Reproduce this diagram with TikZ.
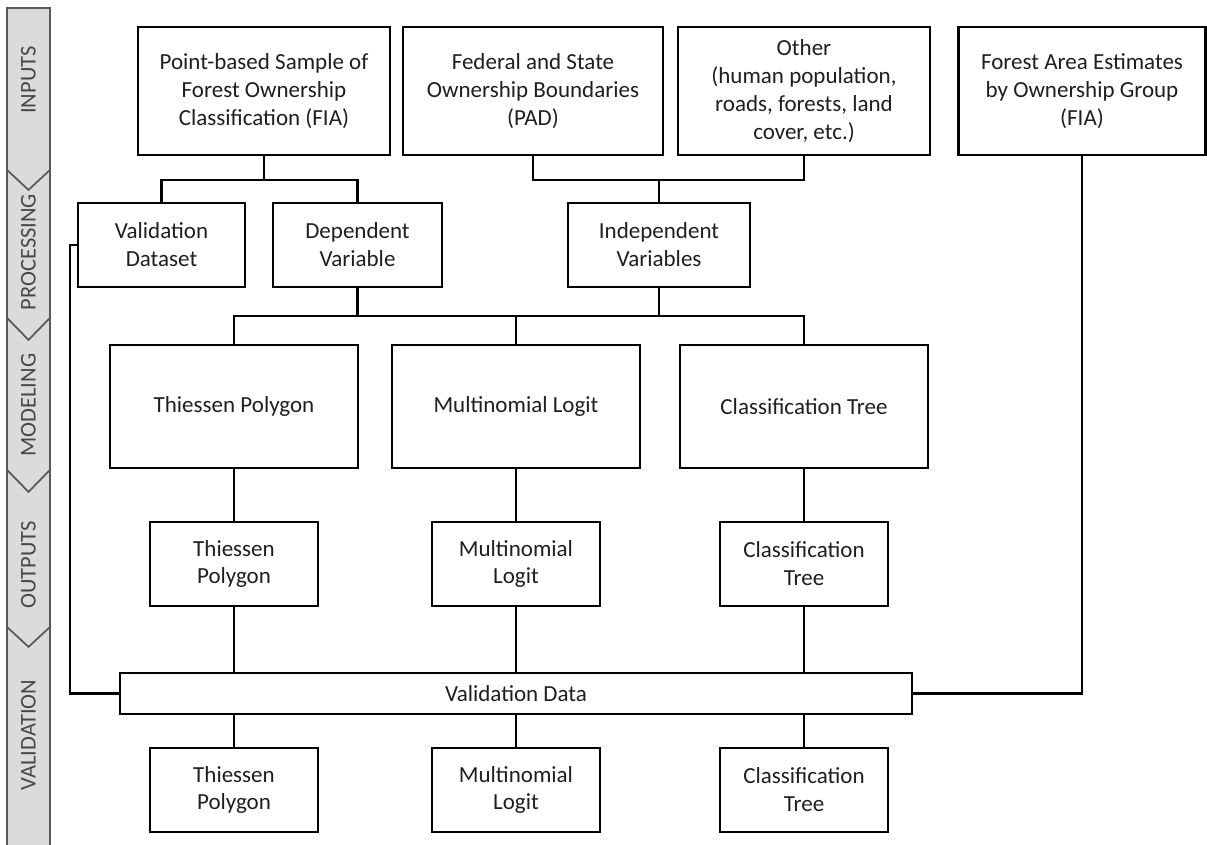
\documentclass[tikz,border=0pt]{standalone}
\usepackage{fontspec}
\setmainfont{Carlito}
\begin{document}
\begin{tikzpicture}[x=0.02cm,y=-0.02cm,
  box/.style={draw=black,line width=1.3pt,fill=white,align=center,inner sep=0pt,
    font=\fontsize{13.1pt}{15.9pt}\selectfont,text=black!88},
  wire/.style={line width=1.3pt,line join=miter},
  seg/.style={fill=black!14,draw=black!65,line width=0.9pt},
  seglabel/.style={rotate=90,font=\fontsize{12.8pt}{14pt}\selectfont,text=black!72}]
\path[use as bounding box,fill=white] (0,0) rectangle (1207,845);
% sidebar
\draw[seg] (7,8) -- (50,8) -- (50,170) -- (28.5,190) -- (7,170) -- cycle;
\draw[seg] (7,170) -- (28.5,190) -- (50,170) -- (50,318) -- (28.5,340) -- (7,318) -- cycle;
\draw[seg] (7,318) -- (28.5,340) -- (50,318) -- (50,470) -- (28.5,492) -- (7,470) -- cycle;
\draw[seg] (7,470) -- (28.5,492) -- (50,470) -- (50,627) -- (28.5,647) -- (7,627) -- cycle;
\draw[seg] (7,627) -- (28.5,647) -- (50,627) -- (50,846) -- (7,846) -- cycle;
\node[seglabel] (lin) at (28.5,80) {INPUTS};
\node[seglabel] (lpr) at (28.5,252) {PROCESSING};
\node[seglabel] (lmo) at (28.5,405) {MODELING};
\node[seglabel] (lou) at (28.5,565) {OUTPUTS};
\node[seglabel] (lva) at (28.5,735) {VALIDATION};
% inputs
\node[box,minimum width=252*0.02cm,minimum height=128*0.02cm] (pb) at (264,91) {Point-based Sample of\\Forest Ownership\\Classification (FIA)};
\node[box,minimum width=260*0.02cm,minimum height=128*0.02cm] (fed) at (533,91) {Federal and State\\Ownership Boundaries\\(PAD)};
\node[box,minimum width=252*0.02cm,minimum height=128*0.02cm] (oth) at (804,91) {Other\\(human population,\\roads, forests, land\\cover, etc.)};
\node[box,minimum width=247*0.02cm,minimum height=128*0.02cm] (fae) at (1082,91) {Forest Area Estimates\\by Ownership Group\\(FIA)};
% processing
\node[box,minimum width=167*0.02cm,minimum height=84*0.02cm] (vd) at (161.5,245) {Validation\\Dataset};
\node[box,minimum width=169*0.02cm,minimum height=84*0.02cm] (dv) at (357.5,245) {Dependent\\Variable};
\node[box,minimum width=182*0.02cm,minimum height=84*0.02cm] (iv) at (659,245) {Independent\\Variables};
% modeling
\node[box,minimum width=248*0.02cm,minimum height=123*0.02cm] (mtp) at (234,406.5) {Thiessen Polygon};
\node[box,minimum width=248*0.02cm,minimum height=123*0.02cm] (mml) at (516,406.5) {Multinomial Logit};
\node[box,minimum width=248*0.02cm,minimum height=123*0.02cm] (mct) at (804,406.5) {Classification Tree};
% outputs
\node[box,minimum width=168*0.02cm,minimum height=84*0.02cm] (otp) at (234,564) {Thiessen\\Polygon};
\node[box,minimum width=168*0.02cm,minimum height=84*0.02cm] (oml) at (516,564) {Multinomial\\Logit};
\node[box,minimum width=168*0.02cm,minimum height=84*0.02cm] (oct) at (804,564) {Classification\\Tree};
% validation
\node[box,minimum width=792*0.02cm,minimum height=41*0.02cm] (vdata) at (516,693.5) {Validation Data};
\node[box,minimum width=168*0.02cm,minimum height=84*0.02cm] (btp) at (234,790) {Thiessen\\Polygon};
\node[box,minimum width=168*0.02cm,minimum height=84*0.02cm] (bml) at (516,790) {Multinomial\\Logit};
\node[box,minimum width=168*0.02cm,minimum height=84*0.02cm] (bct) at (804,790) {Classification\\Tree};
% junction coordinates
\coordinate (j1) at (0,180);
\coordinate (j2) at (0,316);
\coordinate (jl) at (70,0);
% connectors
\draw[wire] (pb.south) -- (pb.south |- j1);
\draw[wire] (vd.north) -- (vd.north |- j1) -- (dv.north |- j1) -- (dv.north);
\draw[wire] (fed.south) -- (fed.south |- j1) -- (oth.south |- j1) -- (oth.south);
\draw[wire] (iv.north) -- (iv.north |- j1);
\draw[wire] (dv.south) -- (dv.south |- j2);
\draw[wire] (iv.south) -- (iv.south |- j2);
\draw[wire] (mtp.north) -- (mtp.north |- j2) -- (mct.north |- j2) -- (mct.north);
\draw[wire] (mml.north) -- (mml.north |- j2);
\draw[wire] (mtp.south) -- (otp.north);
\draw[wire] (mml.south) -- (oml.north);
\draw[wire] (mct.south) -- (oct.north);
\draw[wire] (otp.south) -- (otp.south |- vdata.north);
\draw[wire] (oml.south) -- (oml.south |- vdata.north);
\draw[wire] (oct.south) -- (oct.south |- vdata.north);
\draw[wire] (btp.north |- vdata.south) -- (btp.north);
\draw[wire] (bml.north |- vdata.south) -- (bml.north);
\draw[wire] (bct.north |- vdata.south) -- (bct.north);
\draw[wire] (vd.west) -- (vd.west -| jl) |- (vdata.west);
\draw[wire] (fae.south) |- (vdata.east);
\end{tikzpicture}
\end{document}
